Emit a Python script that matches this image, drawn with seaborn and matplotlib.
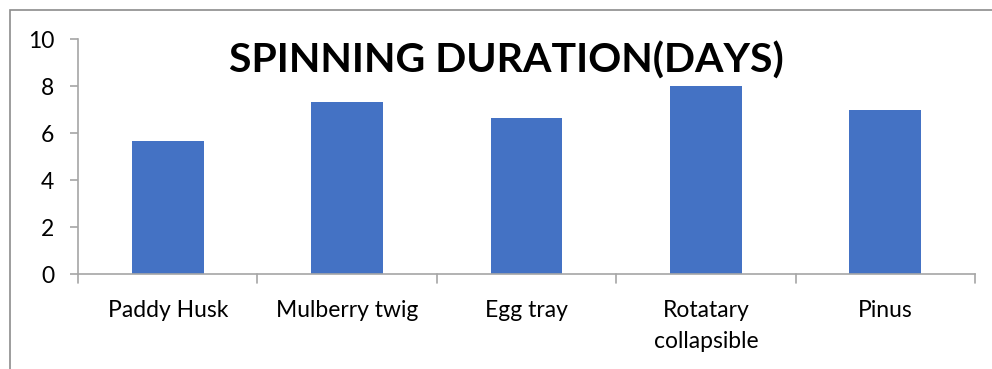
import matplotlib
matplotlib.use("Agg")
import matplotlib.pyplot as plt
import seaborn as sns
import pandas as pd
from matplotlib.patches import Rectangle

categories = ["Paddy Husk", "Mulberry twig", "Egg tray", "Rotatary\ncollapsible", "Pinus"]
values = [5.67, 7.33, 6.67, 8.0, 7.0]
y_ticks = [0, 2, 4, 6, 8, 10]
title = "SPINNING DURATION(DAYS)"

sns.set_style("white")
plt.rcParams['font.family'] = ['Lato', 'DejaVu Sans']

df = pd.DataFrame({"category": categories, "value": values})

W, H = 992, 369
fig = plt.figure(figsize=(W / 100, H / 100), dpi=100)
ax = fig.add_axes([78 / W, 1 - 274.3 / H, (975 - 78) / W, (274.3 - 39.3) / H])

sns.barplot(data=df, x="category", y="value", ax=ax, color="#4472C4",
            saturation=1, width=0.4, edgecolor="none")

ax.set_ylim(0, 10)
ax.set_xlim(-0.5, len(categories) - 0.5)
ax.set_yticks(y_ticks)
ax.set_yticklabels([str(t) for t in y_ticks])
ax.set_xlabel("")
ax.set_ylabel("")

axis_color = "#A6A6A6"
for s in ["top", "right"]:
    ax.spines[s].set_visible(False)
for s in ["left", "bottom"]:
    ax.spines[s].set_color(axis_color)
    ax.spines[s].set_linewidth(1.2)

# x ticks at category boundaries (Excel style)
ax.set_xticks([i for i in range(len(categories))])
ax.tick_params(axis="x", length=0, pad=18.5, labelsize=16.5, colors="black")
for b in [i - 0.5 for i in range(len(categories) + 1)]:
    ax.plot([b, b], [0, -0.35], color=axis_color, lw=1.2, clip_on=False)
for lbl in ax.get_xticklabels():
    lbl.set_linespacing(1.6)
    lbl.set_verticalalignment("top")

ax.tick_params(axis="y", length=6, width=1.2, color=axis_color, pad=11,
               labelsize=16.5, labelcolor="black", left=True)

fig.text(506 / W, 1 - 61 / H, title, ha="center", va="center",
         fontsize=29.5, fontweight="bold", color="black")

# chart area border (top and left visible)
fig.patches.append(Rectangle((9.5 / W, -0.2), 1.2, 1 - 9.5 / H + 0.2,
                             transform=fig.transFigure, fill=False,
                             edgecolor="#8C8C8C", linewidth=1.2))

fig.savefig("out.png", dpi=100)
